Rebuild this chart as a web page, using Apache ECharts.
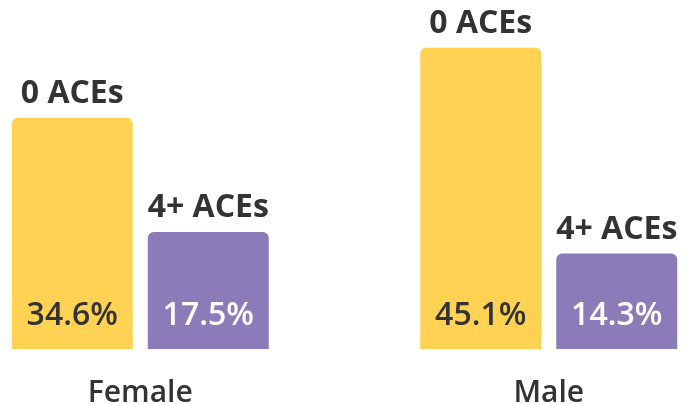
<!DOCTYPE html>
<html>
<head>
<meta charset="utf-8">
<script src="https://cdn.jsdelivr.net/npm/echarts@6/dist/echarts.min.js"></script>
<style>
  html, body { margin: 0; padding: 0; background: #fff; overflow: hidden; }
  /* wider than the window so the two groups sit where the reference puts them */
  #chart { width: 817px; height: 404px; margin-left: -64px; }
</style>
</head>
<body>
<div id="chart"></div>
<script>
const categories = ['Female', 'Male']
const seriesNames = ['0 ACEs', '4+ ACEs']
const zeroAces = [34.6, 45.1]
const fourPlusAces = [17.5, 14.3]

const colors = ['#FFD254', '#8B7CB9']
const valueText = ['#333333', '#ffffff']
const font = '"Open Sans", "Noto Sans", sans-serif'

const valueSeries = (name, data, i) => ({
  name,
  type: 'bar',
  stack: 's' + i,
  data,
  barWidth: 121,
  barGap: '12.4%',
  itemStyle: { color: colors[i], borderRadius: [6, 6, 0, 0] },
  label: {
    show: true,
    position: 'insideBottom',
    distance: 17,
    formatter: p => p.value.toFixed(1) + '%',
    color: valueText[i],
    fontFamily: font,
    fontWeight: 600,
    fontSize: 32,
  },
})

// zero-height bar on top of each stack, only carries the series name label
const capSeries = (name, i) => ({
  name: name + ' cap',
  type: 'bar',
  stack: 's' + i,
  data: categories.map(() => 0),
  barWidth: 121,
  barGap: '12.4%',
  itemStyle: { color: 'transparent' },
  label: {
    show: true,
    position: 'top',
    distance: 8,
    formatter: () => name,
    color: '#333333',
    fontFamily: font,
    fontWeight: 'bold',
    fontSize: 32,
  },
})

const chart = echarts.init(document.getElementById('chart'))
chart.setOption({
  animation: false,
  grid: { left: 0, right: 0, top: 15, bottom: 55, outerBoundsMode: 'none' },
  xAxis: {
    type: 'category',
    data: categories,
    axisLine: { show: false },
    axisTick: { show: false },
    axisLabel: {
      margin: 29,
      color: '#333333',
      fontFamily: font,
      fontWeight: 600,
      fontSize: 30,
    },
  },
  yAxis: { type: 'value', min: 0, max: 50, show: false },
  series: [
    valueSeries(seriesNames[0], zeroAces, 0),
    valueSeries(seriesNames[1], fourPlusAces, 1),
    capSeries(seriesNames[0], 0),
    capSeries(seriesNames[1], 1),
  ],
})
</script>
</body>
</html>
